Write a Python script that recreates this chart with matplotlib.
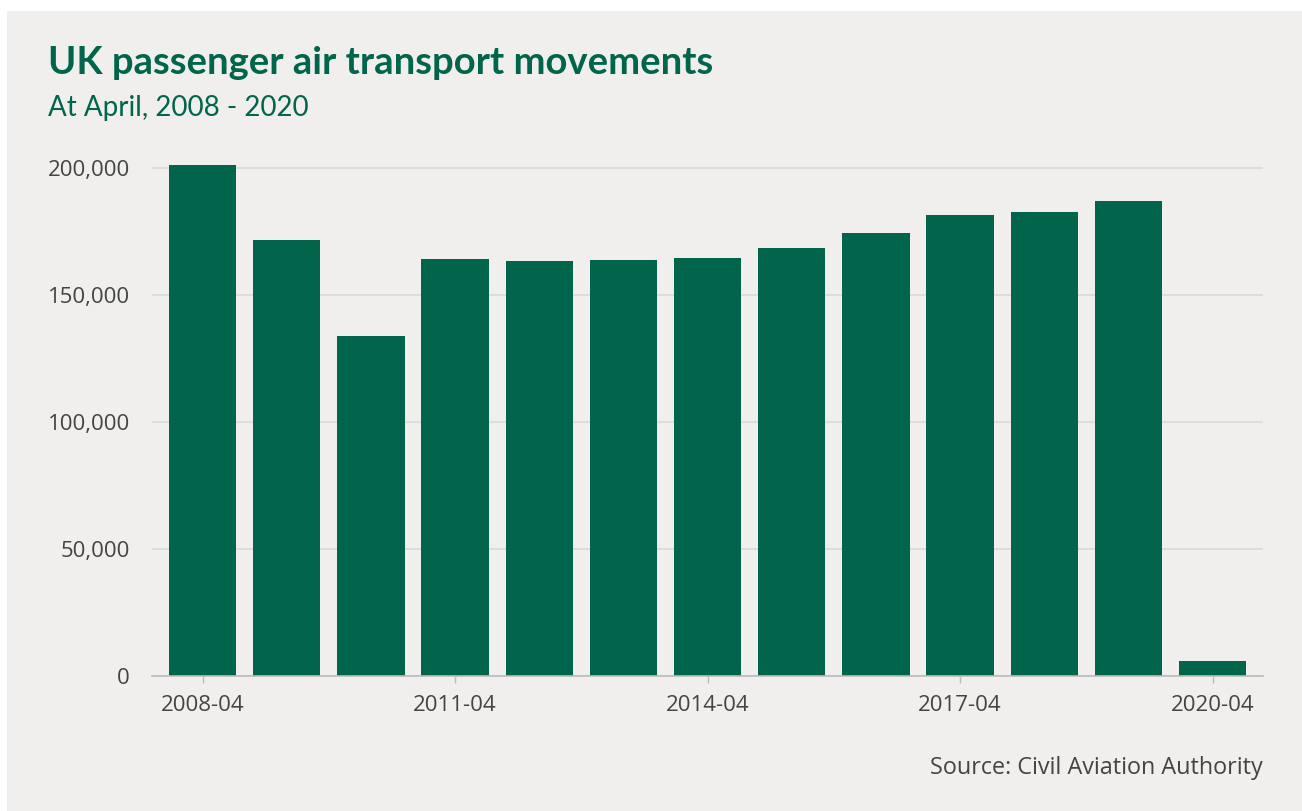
import matplotlib
matplotlib.use("Agg")
import matplotlib.pyplot as plt
from matplotlib.patches import Rectangle

years = [str(y) for y in range(2008, 2021)]
movements = [201200, 171700, 133900, 164200, 163400, 163800, 164600,
             168500, 174400, 181500, 182700, 187000, 5900]
tick_idx = [0, 3, 6, 9, 12]
tick_labels = ["2008-04", "2011-04", "2014-04", "2017-04", "2020-04"]
y_ticks = [0, 50000, 100000, 150000, 200000]

green = "#00654a"
bg = "#f0efed"
text_grey = "#444444"
W, H = 1302, 811

plt.rcParams['font.family'] = ['Open Sans', 'DejaVu Sans']

fig = plt.figure(figsize=(W / 100, H / 100), dpi=100)
fig.patch.set_facecolor("white")
fig.patches.append(Rectangle((7 / W, 0), 1 - 7 / W, 1 - 11 / H,
                             transform=fig.transFigure, facecolor=bg,
                             edgecolor="none", zorder=-10))

ax = fig.add_axes([152 / W, (H - 676) / H, (1263 - 152) / W, (676 - 150) / H])
ax.set_zorder(1)
ax.patch.set_alpha(0)

x = list(range(len(years)))
ax.bar(x, movements, width=0.8, color=green, zorder=3)

ax.set_xlim(-0.6, 12.6)
ax.set_ylim(0, 207100)
ax.set_yticks(y_ticks)
ax.set_yticklabels([f"{v:,}" for v in y_ticks])
ax.set_xticks(tick_idx)
ax.set_xticklabels(tick_labels)

ax.grid(axis="y", color="#dcdad8", linewidth=1.2, zorder=0)
for s in ["top", "right", "left"]:
    ax.spines[s].set_visible(False)
ax.spines["bottom"].set_color("#bdbbb9")
ax.spines["bottom"].set_linewidth(1.2)
ax.spines["bottom"].set_zorder(4)

ax.tick_params(axis="y", length=0, pad=16, labelsize=16, labelcolor=text_grey)
ax.tick_params(axis="x", length=5, width=1, color="#bdbbb9", pad=9,
               labelsize=16, labelcolor=text_grey)

fig.text(48 / W, 1 - 63 / H, "UK passenger air transport movements",
         fontsize=27.5, fontweight="bold", color=green, va="center",
         family=["Lato", "DejaVu Sans"])
fig.text(48 / W, 1 - 108 / H, "At April, 2008 - 2020",
         fontsize=20, color=green, va="center",
         family=["Lato", "DejaVu Sans"])
fig.text(1263 / W, 1 - 768 / H, "Source: Civil Aviation Authority",
         fontsize=16.8, color=text_grey, ha="right", va="center")

fig.savefig("out.png", dpi=100, facecolor=fig.get_facecolor())
